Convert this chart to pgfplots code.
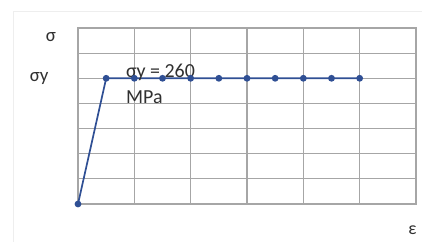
\documentclass[border=0pt]{standalone}
\usepackage{fontspec}
\setmainfont{Carlito}
\usepackage{pgfplots}
\pgfplotsset{compat=1.18}
\definecolor{gridc}{HTML}{A6A6A6}
\definecolor{linec}{HTML}{2F4F94}
\definecolor{framec}{HTML}{EEEEEE}
\definecolor{txt}{HTML}{303030}
\begin{document}
\begin{tikzpicture}[x=1bp,y=1bp]
\useasboundingbox (0,0) rectangle (422,242);
\draw[framec, line width=1bp] (13,-10) -- (13,230) -- (440,230);
\begin{axis}[
  at={(78bp,38bp)}, anchor=south west,
  scale only axis, width=338bp, height=176bp,
  xmin=0, xmax=12, ymin=0, ymax=7,
  xtick={0,2,...,12}, ytick={0,1,...,7},
  xticklabels={}, yticklabels={},
  major tick length=0pt,
  grid=major,
  grid style={gridc, line width=1.1bp},
  axis line style={gridc, line width=1.1bp},
  clip=false,
]
\addplot[linec, line width=1.7bp, mark=*, mark size=2.5bp, mark options={fill=linec, draw=linec}]
  coordinates {(0,0) (1,5) (2,5) (3,5) (4,5) (5,5) (6,5) (7,5) (8,5) (9,5) (10,5)};
\node[anchor=center, font=\fontsize{19}{22}\selectfont, text=txt] at (axis cs:-0.96,6.64) {σ};
\node[anchor=center, font=\fontsize{19}{22}\selectfont, text=txt] at (axis cs:-1.38,5.0) {σy};
\node[anchor=base west, inner sep=0pt, font=\fontsize{20}{24}\selectfont, text=txt] at (axis cs:1.70,5.05) {σy = 260};
\node[anchor=base west, inner sep=0pt, font=\fontsize{20}{24}\selectfont, text=txt] at (axis cs:1.70,3.98) {MPa};
\node[anchor=base west, inner sep=0pt, font=\fontsize{18}{20}\selectfont, text=txt] at (axis cs:11.72,-1.22) {ε};
\end{axis}
\end{tikzpicture}
\end{document}
